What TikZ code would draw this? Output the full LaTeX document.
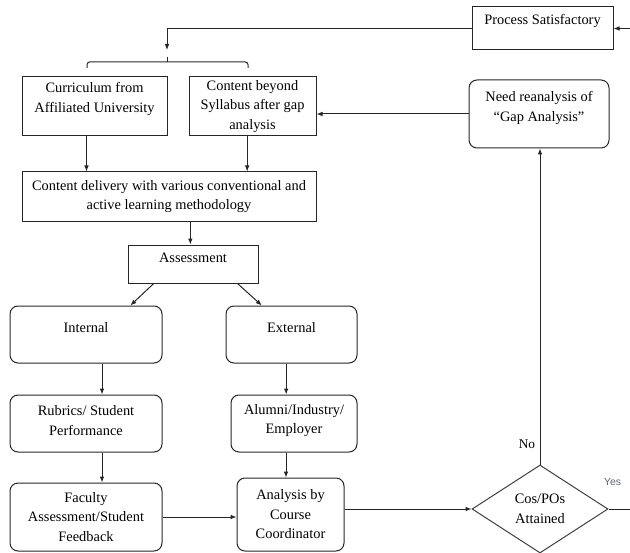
\documentclass[tikz,border=0pt]{standalone}
\usepackage{fontspec}
\setmainfont{Liberation Serif}
\newfontfamily\yesfont{Liberation Sans}
\usepackage{xcolor}
\definecolor{yesgray}{RGB}{95,100,112}
\usetikzlibrary{shapes.geometric,arrows.meta,calc}

\begin{document}
\begin{tikzpicture}[
    x=0.75pt, y=-0.75pt,
    font=\fontsize{10.8}{14.6}\selectfont,
    sqbox/.style={rectangle, draw=black!85, line width=0.75pt, align=center},
    rbox/.style={sqbox, rounded corners=6pt},
    decision/.style={diamond, draw=black!75, line width=0.75pt, aspect=1.5, inner sep=0pt, align=center},
    line/.style={draw=black!85, line width=0.75pt},
    arr/.style={line, -{Latex[length=4.5pt,width=3.5pt]}},
    yeslbl/.style={font=\yesfont\fontsize{7.8}{9}\selectfont, text=yesgray}
]
    \useasboundingbox (0,0) rectangle (630,552);
    \clip (0,0) rectangle (630,552);

    \node[sqbox, minimum width=105.75pt, minimum height=32.25pt, text depth=13.5pt] (proc) at (542.5,28.5) {Process Satisfactory};
    \node[sqbox, minimum width=108.75pt, minimum height=44.25pt, text depth=13.5pt] (curr) at (94.5,106.5) {Curriculum from\\Affiliated University};
    \node[sqbox, minimum width=95.25pt, minimum height=44.25pt, inner ysep=0pt] (beyond) at (252.5,106.5) {Content beyond\\Syllabus after gap\\analysis};
    \node[rbox, minimum width=105pt, minimum height=51pt, text depth=11.3pt] (need) at (539,114) {Need reanalysis of\\“Gap Analysis”};
    \node[sqbox, minimum width=220.5pt, minimum height=36.75pt, inner xsep=2pt] (deliv) at (169,196.5) {Content delivery with various conventional and\\active learning methodology};
    \node[sqbox, minimum width=97.5pt, minimum height=28.5pt, text depth=9pt] (assess) at (193,264) {Assessment};
    \node[rbox, minimum width=114pt, minimum height=42.75pt, text depth=9.8pt] (intl) at (86,334.5) {Internal};
    \node[rbox, minimum width=98.25pt, minimum height=42.75pt, text depth=9.8pt] (extl) at (291.5,334.5) {External};
    \node[rbox, minimum width=114pt, minimum height=42.75pt, text depth=4.5pt] (rubr) at (86,423.5) {Rubrics/ Student\\Performance};
    \node[rbox, minimum width=94.5pt, minimum height=42.75pt, text depth=6.8pt] (alum) at (294,423.5) {Alumni/Industry/\\Employer};
    \node[rbox, minimum width=114pt, minimum height=51pt] (fac) at (86,517) {Faculty\\Assessment/Student\\Feedback};
    \node[rbox, minimum width=80.25pt, minimum height=54.75pt] (anal) at (290.5,514.5) {Analysis by\\Course\\Coordinator};
    \node[decision, minimum width=102pt, minimum height=66pt] (dec) at (540,509) {Cos/POs\\Attained};

    \coordinate (split) at (167,50);
    \coordinate (fork) at (167,62);
    \coordinate (braceL) at (87,68);
    \coordinate (braceR) at (248,68);
    \coordinate (loopend) at (650,509);

    % back to the start
    \draw[arr] (proc.west) -| (split);
    \draw[line, rounded corners=2pt] (braceL) |- (fork) -| (braceR);
    \draw[line] (fork) -- ++(0,-5);

    \draw[arr] ([xshift=-6pt]curr.south) -- ([xshift=-6pt]curr.south |- deliv.north);
    \draw[arr] ([xshift=-4pt]beyond.south) -- ([xshift=-4pt]beyond.south |- deliv.north);
    \draw[arr] ([xshift=-2pt]assess.north |- deliv.south) -- ([xshift=-2pt]assess.north);
    \draw[arr] ($(assess.south west)!0.2!(assess.south east)$) -- ($(intl.north west)!0.79!(intl.north east)$);
    \draw[arr] ($(assess.south west)!0.84!(assess.south east)$) -- ($(extl.north west)!0.275!(extl.north east)$);
    \draw[arr] ([xshift=12pt]intl.south) -- ([xshift=12pt]rubr.north);
    \draw[arr] ([xshift=12pt]rubr.south) -- ([xshift=12pt]fac.north);
    \draw[arr] ([xshift=-4pt]extl.south) -- ([xshift=-4pt]extl.south |- alum.north);
    \draw[arr] ([xshift=-6pt]alum.south) -- ([xshift=-6pt]alum.south |- anal.north);
    \draw[arr] (fac.east) -- (fac.east -| anal.west);
    \draw[arr] (anal.east |- dec.west) -- (dec.west);

    % decision
    \draw[arr] (dec.north) -- node[pos=0.065, left=0pt, font=\fontsize{10}{12}\selectfont] {No} (dec.north |- need.south);
    \draw[arr] (need.west) -- (need.west -| beyond.east);
    \draw[arr] (dec.east) -- node[at start, above=14pt, xshift=3pt, yeslbl] {Yes} (loopend) |- (proc.east);
\end{tikzpicture}
\end{document}
